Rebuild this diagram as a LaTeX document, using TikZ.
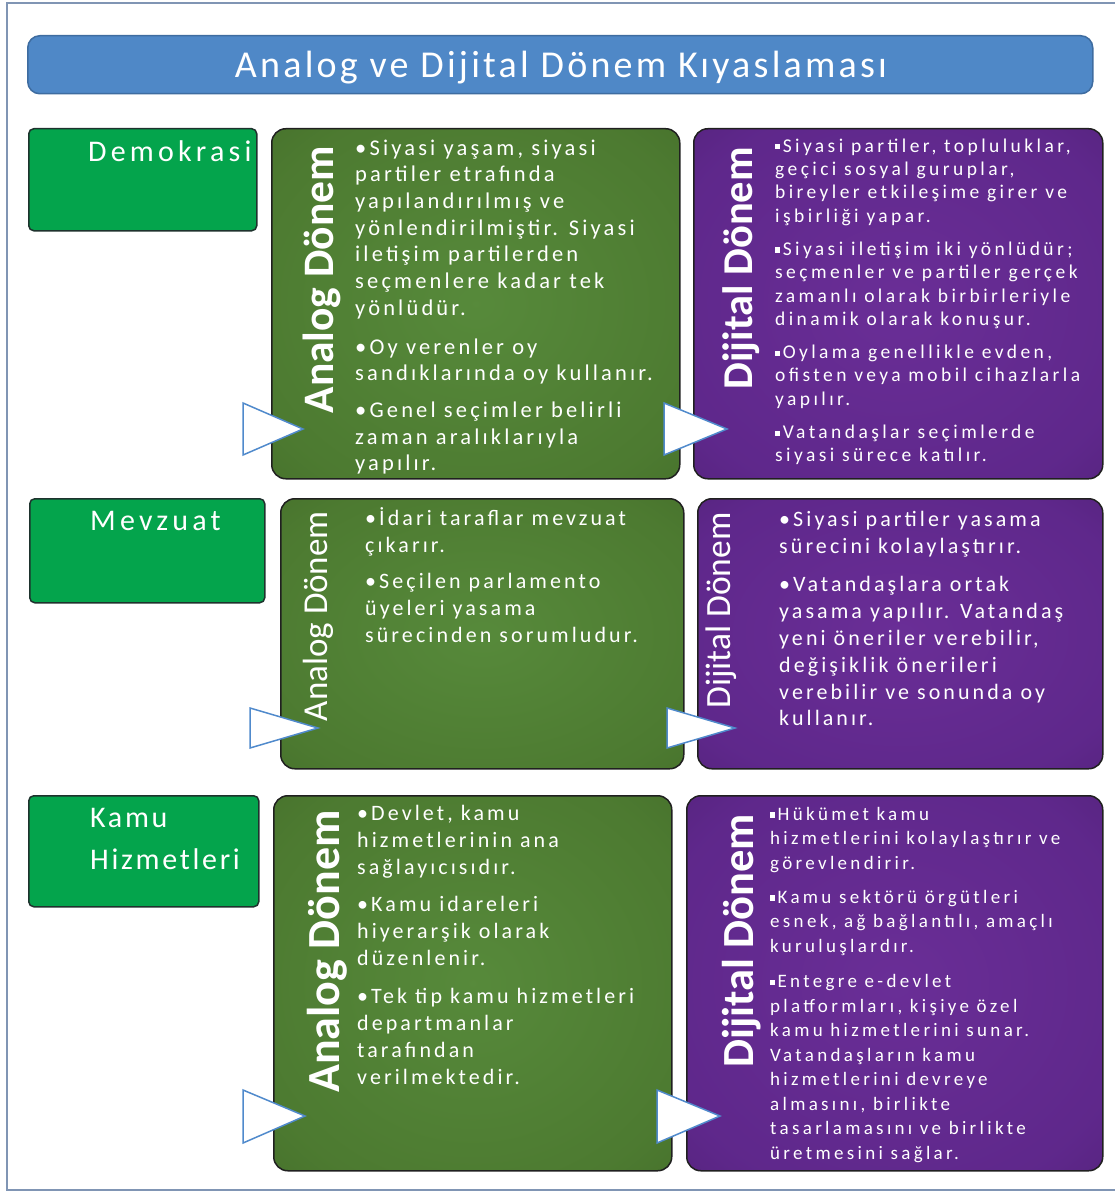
\documentclass[tikz,border=0pt]{standalone}
\usepackage{fontspec}
\setmainfont{Carlito}[LetterSpace=14]
\newfontfamily\tagfont{Carlito}

% palette
\definecolor{framec}{RGB}{128,149,180}
\definecolor{titlefill}{RGB}{79,136,199}
\definecolor{titledraw}{RGB}{62,108,160}
\definecolor{topicfill}{RGB}{4,164,76}
\definecolor{topicdraw}{RGB}{30,50,45}
\definecolor{edgedark}{RGB}{32,32,32}
\definecolor{pointerblue}{RGB}{80,138,204}

% soft glows for the era panels
\pgfdeclareradialshading{greenglow}{\pgfpoint{0bp}{0bp}}{%
  rgb(0bp)=(0.340,0.540,0.230); rgb(30bp)=(0.300,0.478,0.190); rgb(50bp)=(0.240,0.395,0.145)}
\pgfdeclareradialshading{purpleglow}{\pgfpoint{0bp}{0bp}}{%
  rgb(0bp)=(0.415,0.180,0.590); rgb(30bp)=(0.370,0.155,0.545); rgb(50bp)=(0.285,0.115,0.420)}

% small square bullet
\newcommand{\sqb}{\rule[0.14em]{0.27em}{0.27em}\hspace{0.12em}}

\tikzset{
  frameline/.style={draw=framec, line width=2pt},
  titlebar/.style={draw=titledraw, fill=titlefill, line width=1.5pt,
    rounded corners=12pt, inner sep=0pt, anchor=north west},
  topicbox/.style={draw=topicdraw, fill=topicfill, line width=1.5pt,
    rounded corners=5pt, inner sep=0pt, anchor=north west},
  analogbox/.style={draw=edgedark, shade, shading=greenglow, line width=1.5pt,
    rounded corners=14pt, inner sep=0pt, anchor=north west},
  digitalbox/.style={draw=edgedark, shade, shading=purpleglow, line width=1.5pt,
    rounded corners=14pt, inner sep=0pt, anchor=north west},
  pointer/.style={draw=pointerblue, fill=white, line width=1.5pt, line join=miter},
  topictext/.style={text=white, inner sep=0pt, anchor=north west, align=left,
    font=\fontsize{30}{42}\selectfont},
  eratag/.style={text=white, inner sep=0pt, rotate=90, anchor=base east},
  boldtag/.style={eratag, font=\tagfont\bfseries\fontsize{#1}{#1}\selectfont},
  lighttag/.style={eratag, font=\tagfont\fontsize{#1}{#1}\selectfont},
  bodytext/.style={text=white, inner sep=0pt, anchor=north west, align=left},
  smalltext/.style 2 args={bodytext,
    font=\fontsize{#1}{#2}\selectfont\addfontfeature{LetterSpace=17.5}},
}

\begin{document}
\begin{tikzpicture}[x=1pt, y=-1pt]
\useasboundingbox (0,0) rectangle (1114,1196);

% outer frame
\draw[frameline] (7,3) rectangle (1125,1190);

% title
\node[titlebar, minimum width=1065pt, minimum height=58pt] (title) at (27,35) {};
\node[text=white, inner sep=0pt, anchor=base,
  font=\fontsize{38}{38}\selectfont\addfontfeature{LetterSpace=8.5}]
  (titletext) at (561,78) {Analog ve Dijital Dönem Kıyaslaması};

% ---------- Demokrasi ----------
\node[topicbox, minimum width=228pt, minimum height=102pt] (demo) at (28,128) {};
\node[topictext] (demotext) at (88,131.6) {\strut Demokrasi};

\node[analogbox, minimum width=408pt, minimum height=350pt] (demoA) at (271,128) {};
\node[digitalbox, minimum width=409pt, minimum height=350pt] (demoD) at (693,128) {};

\node[boldtag=43.5] (demoAtag) at (333,146) {Analog Dönem};
\node[bodytext, font=\fontsize{22.5}{26.7}\selectfont] (demoAtext) at (355,136.3) {%
\strut•Siyasi yaşam, siyasi\\
partiler etrafında\\
yapılandırılmış ve\\
yönlendirilmiştir. Siyasi\\
iletişim partilerden\\
seçmenlere kadar tek\\
yönlüdür.\\[12pt]
•Oy verenler oy\\
sandıklarında oy kullanır.\\[10pt]
•Genel seçimler belirli\\
zaman aralıklarıyla\\
yapılır.};

\node[boldtag=42.5] (demoDtag) at (752,147) {Dijital Dönem};
\node[smalltext={19.5}{23.3}] (demoDtext) at (775,135.7) {%
\strut\sqb Siyasi partiler, topluluklar,\\
geçici sosyal guruplar,\\
bireyler etkileşime girer ve\\
işbirliği yapar.\\[10pt]
\sqb Siyasi iletişim iki yönlüdür;\\
seçmenler ve partiler gerçek\\
zamanlı olarak birbirleriyle\\
dinamik olarak konuşur.\\[10pt]
\sqb Oylama genellikle evden,\\
ofisten veya mobil cihazlarla\\
yapılır.\\[10pt]
\sqb Vatandaşlar seçimlerde\\
siyasi sürece katılır.};

\draw[pointer] (243,403) -- (303,429) -- (243,455) -- cycle;
\draw[pointer] (664,403) -- (727,429) -- (664,455) -- cycle;

% ---------- Mevzuat ----------
\node[topicbox, minimum width=235pt, minimum height=104pt] (law) at (29,498) {};
\node[topictext] (lawtext) at (90,500.6) {\strut Mevzuat};

\node[analogbox, minimum width=403pt, minimum height=270pt] (lawA) at (280,498) {};
\node[digitalbox, minimum width=405pt, minimum height=270pt] (lawD) at (697,498) {};

\node[lighttag=35] (lawAtag) at (327,511) {Analog Dönem};
\node[bodytext, font=\fontsize{22}{26.8}\selectfont] (lawAtext) at (365,506.3) {%
\strut•İdari taraflar mevzuat\\
çıkarır.\\[10pt]
•Seçilen parlamento\\
üyeleri yasama\\
sürecinden sorumludur.};

\node[lighttag=35.5] (lawDtag) at (730,512) {Dijital Dönem};
\node[bodytext, font=\fontsize{22}{26.8}\selectfont] (lawDtext) at (779,507.3) {%
\strut•Siyasi partiler yasama\\
sürecini kolaylaştırır.\\[12pt]
•Vatandaşlara ortak\\
yasama yapılır. Vatandaş\\
yeni öneriler verebilir,\\
değişiklik önerileri\\
verebilir ve sonunda oy\\
kullanır.};

\draw[pointer] (250,708) -- (318,728) -- (250,748) -- cycle;
\draw[pointer] (667,708) -- (735,728) -- (667,748) -- cycle;

% ---------- Kamu Hizmetleri ----------
\node[topicbox, minimum width=230pt, minimum height=111pt] (pub) at (28,795) {};
\node[topictext, font=\fontsize{30}{42}\selectfont\addfontfeature{LetterSpace=9}]
  (pubtext) at (90,797.6) {\strut Kamu\\Hizmetleri};

\node[analogbox, minimum width=398pt, minimum height=375pt] (pubA) at (273,795) {};
\node[digitalbox, minimum width=416pt, minimum height=375pt] (pubD) at (686,795) {};

\node[boldtag=46] (pubAtag) at (339,810) {Analog Dönem};
\node[bodytext, font=\fontsize{22}{27}\selectfont] (pubAtext) at (357,801.1) {%
\strut•Devlet, kamu\\
hizmetlerinin ana\\
sağlayıcısıdır.\\[10pt]
•Kamu idareleri\\
hiyerarşik olarak\\
düzenlenir.\\[11pt]
•Tek tip kamu hizmetleri\\
departmanlar\\
tarafından\\
verilmektedir.};

\node[boldtag=44.5] (pubDtag) at (753,814) {Dijital Dönem};
\node[smalltext={19}{24.5}] (pubDtext) at (770,802.9) {%
\strut\sqb Hükümet kamu\\
hizmetlerini kolaylaştırır ve\\
görevlendirir.\\[9.5pt]
\sqb Kamu sektörü örgütleri\\
esnek, ağ bağlantılı, amaçlı\\
kuruluşlardır.\\[11pt]
\sqb Entegre e-devlet\\
platformları, kişiye özel\\
kamu hizmetlerini sunar.\\
Vatandaşların kamu\\
hizmetlerini devreye\\
almasını, birlikte\\
tasarlamasını ve birlikte\\
üretmesini sağlar.};

\draw[pointer] (243,1090) -- (305,1116) -- (243,1143) -- cycle;
\draw[pointer] (657,1090) -- (720,1116) -- (657,1143) -- cycle;
\end{tikzpicture}
\end{document}
